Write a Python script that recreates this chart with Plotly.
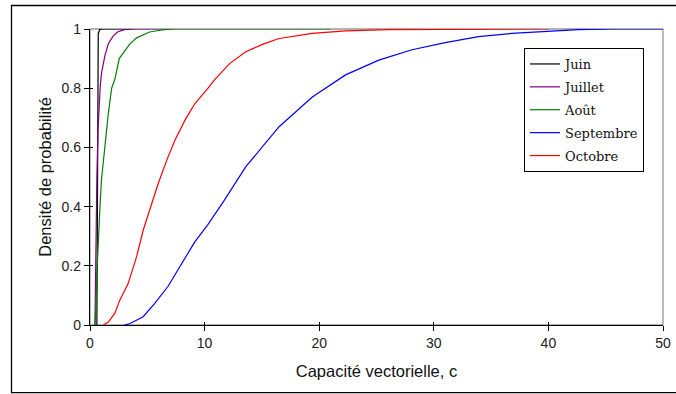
import plotly.graph_objects as go

# Fonctions de répartition de la capacité vectorielle, par mois
MONTHS = ["Juin", "Juillet", "Août", "Septembre", "Octobre"]
COLORS = ["#000000", "#800080", "#008000", "#0000FF", "#FF0000"]

juin_x = [0.6, 0.62, 0.64, 0.66, 0.72, 0.85, 1.1, 3.0]
juin_y = [0, 0.3, 0.7, 0.93, 0.985, 0.998, 1, 1]

juillet_x = [0.43, 0.5, 0.6, 0.7, 0.8, 0.9, 1.0, 1.15, 1.3, 1.6, 2.0, 2.4, 3.0, 4.0, 7.3]
juillet_y = [0, 0.25, 0.5, 0.66, 0.75, 0.81, 0.85, 0.88, 0.91, 0.95, 0.975, 0.99, 0.998, 1, 1]

aout_x = [0.43, 0.5, 0.63, 0.78, 0.87, 1.0, 1.24, 1.3, 1.5, 1.6, 1.89, 2.17, 2.55, 3.0,
          3.48, 4.06, 4.6, 5.2, 6.0, 7.0, 21.0]
aout_y = [0, 0.05, 0.2, 0.36, 0.4, 0.49, 0.58, 0.6, 0.68, 0.715, 0.8, 0.83, 0.9, 0.925,
          0.95, 0.97, 0.98, 0.99, 0.995, 1, 1]

sept_x = [3.0, 3.5, 4.64, 5.65, 6.8, 7.97, 9.13, 10.3, 11.7, 13.6, 16.5, 19.4, 22.3, 25.2,
          28.1, 31.0, 33.9, 36.8, 40.0, 42.6, 46.0, 50.0]
sept_y = [0, 0.005, 0.028, 0.073, 0.13, 0.205, 0.28, 0.34, 0.42, 0.535, 0.67, 0.77, 0.845,
          0.895, 0.93, 0.954, 0.974, 0.985, 0.993, 0.998, 1, 1]

oct_x = [1.16, 1.6, 2.17, 2.6, 3.33, 4.06, 4.64, 5.24, 5.96, 6.7, 7.42, 8.3, 9.17, 10.3,
         10.9, 12.2, 13.6, 15.1, 16.5, 19.4, 22.3, 26.0, 30.0, 35.0, 40.0]
oct_y = [0, 0.01, 0.04, 0.084, 0.14, 0.23, 0.32, 0.394, 0.479, 0.557, 0.625, 0.693, 0.749,
         0.8, 0.83, 0.884, 0.923, 0.949, 0.968, 0.985, 0.994, 0.998, 0.999, 1, 1]

x_ticks = [0, 10, 20, 30, 40, 50]
y_ticks = [0, 0.2, 0.4, 0.6, 0.8, 1]
y_tick_text = ["0", "0.2", "0.4", "0.6", "0.8", "1"]

series = [
    (juin_x, juin_y),
    (juillet_x, juillet_y),
    (aout_x, aout_y),
    (sept_x, sept_y),
    (oct_x, oct_y),
]

fig = go.Figure()
for name, color, (xs, ys) in zip(MONTHS, COLORS, series):
    fig.add_trace(go.Scatter(
        x=xs, y=ys, name=name, mode="lines",
        line=dict(color=color, width=1.2),
        legendgroup=name,
    ))

# trace invisible pour porter les axes secondaires (ticks traversants)
fig.add_trace(go.Scatter(x=[None], y=[None], xaxis="x2", yaxis="y2",
                         showlegend=False, hoverinfo="skip"))

W, H = 676, 394
L, R, T, B = 90, 13, 29, 69
pw, ph = W - L - R, H - T - B

axis_font = dict(family="Liberation Sans, Arial, sans-serif", size=14, color="#222")
title_font = dict(family="Liberation Sans, Arial, sans-serif", size=16.5, color="#111")

fig.update_layout(
    width=W, height=H,
    margin=dict(l=L, r=R, t=T, b=B),
    paper_bgcolor="white",
    plot_bgcolor="white",
    showlegend=True,
    xaxis=dict(
        range=[0, 50], tickvals=x_ticks, showgrid=False, zeroline=False, automargin=False,
        showline=True, linecolor="black", linewidth=1.3,
        ticks="outside", ticklen=5, tickcolor="black", tickwidth=1.3,
        tickfont=axis_font,
        title=dict(text="Capacité vectorielle, c", standoff=15, font=title_font),
    ),
    yaxis=dict(
        range=[0, 1], tickvals=y_ticks, ticktext=y_tick_text, showgrid=False, zeroline=False,
        automargin=False,
        showline=True, linecolor="black", linewidth=1.3,
        ticks="outside", ticklen=5, tickcolor="black", tickwidth=1.3,
        tickfont=axis_font,
        title=dict(text="Densité de probabilité", standoff=5, font=title_font),
    ),
    xaxis2=dict(
        overlaying="x", anchor="y", side="bottom", range=[0, 50], tickvals=x_ticks,
        showticklabels=False, showgrid=False, zeroline=False, showline=False, automargin=False,
        ticks="inside", ticklen=3, tickcolor="black", tickwidth=1.3,
    ),
    yaxis2=dict(
        overlaying="y", anchor="x", side="left", range=[0, 1], tickvals=y_ticks,
        showticklabels=False, showgrid=False, zeroline=False, showline=False, automargin=False,
        ticks="inside", ticklen=3, tickcolor="black", tickwidth=1.3,
    ),
    legend=dict(
        x=(524 - L) / pw, y=(325 - 48) / ph, xanchor="left", yanchor="top",
        bgcolor="white", bordercolor="black", borderwidth=1,
        font=dict(family="DejaVu Serif, serif", size=13, color="#111"),
        tracegroupgap=3,
    ),
    shapes=[
        # cadre gris de la zone de tracé
        dict(type="rect", xref="paper", yref="paper", x0=0, y0=0, x1=1, y1=1,
             line=dict(color="#999", width=1.3), layer="below"),
        # cadre extérieur du graphique
        dict(type="rect", xref="paper", yref="paper",
             x0=(11.5 - L) / pw, x1=(677 - L) / pw,
             y0=(325 - 392.7) / ph, y1=(325 - 5.5) / ph,
             line=dict(color="black", width=1.3), layer="below"),
    ],
)

# la page a une marge de 8 px par défaut : on la supprime
fig.write_html("out.html", config={"displayModeBar": False},
               post_script="document.body.style.margin='0';")
